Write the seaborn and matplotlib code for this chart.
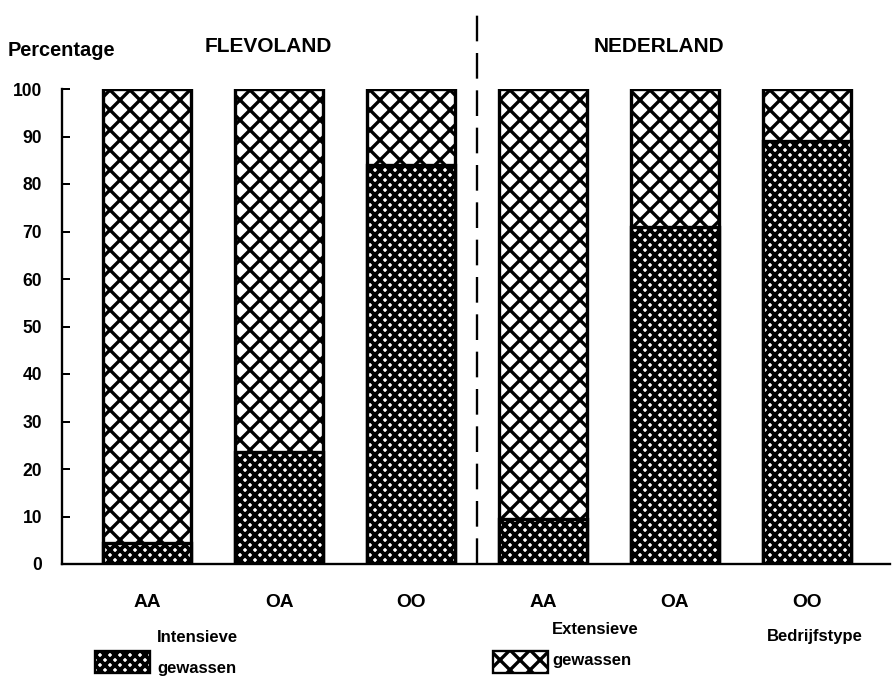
import matplotlib
matplotlib.use("Agg")
import matplotlib.pyplot as plt
import seaborn as sns
import pandas as pd
from matplotlib.patches import Rectangle

# ---- data ----
regions = ["FLEVOLAND", "FLEVOLAND", "FLEVOLAND", "NEDERLAND", "NEDERLAND", "NEDERLAND"]
farm_types = ["AA", "OA", "OO", "AA", "OA", "OO"]
intensive = [4.5, 23.5, 84, 9.5, 71, 89]
extensive = [100 - v for v in intensive]
y_ticks = [0, 10, 20, 30, 40, 50, 60, 70, 80, 90, 100]

sns.set_theme(style="white")
plt.rcParams["font.family"] = ["Liberation Sans", "DejaVu Sans"]
plt.rcParams["font.weight"] = "bold"
plt.rcParams["text.color"] = "black"
plt.rcParams["hatch.linewidth"] = 2.0

DPI = 120
W, H = 894, 683
fig = plt.figure(figsize=(W / DPI, H / DPI), dpi=DPI)
ax = fig.add_axes([62 / W, 1 - 564 / H, (890 - 62) / W, (564 - 89) / H])

keys = [f"{r} {t}" for r, t in zip(regions, farm_types)]
df = pd.DataFrame({"key": keys, "total": [i + e for i, e in zip(intensive, extensive)],
                   "intensive": intensive})

sns.barplot(data=df, x="key", y="total", order=keys, color="white", width=0.667,
            edgecolor="black", linewidth=2.0, ax=ax, saturation=1)
n0 = len(ax.patches)
sns.barplot(data=df, x="key", y="intensive", order=keys, color="white", width=0.667,
            edgecolor="black", linewidth=2.0, ax=ax, saturation=1)
for i, p in enumerate(ax.patches):
    p.set_facecolor("white")
    p.set_edgecolor("black")
    p.set_hatch("xx" if i < n0 else "xxxx")
    if hasattr(p, "set_hatch_linewidth"):
        p.set_hatch_linewidth(2.0 if i < n0 else 2.3)

ax.set_xlim(-0.645, 5.63)
ax.set_ylim(0, 100)
ax.set_yticks(y_ticks)
ax.set_yticklabels([str(v) for v in y_ticks], fontsize=10.5, fontweight="bold", color="black")
ax.set_xticks(range(len(farm_types)))
ax.set_xticklabels(farm_types, fontsize=11.5, fontweight="bold", color="black")
ax.set_xlabel("")
ax.set_ylabel("")
ax.tick_params(axis="y", direction="in", length=4.8, width=1.2, pad=12, colors="black", left=True)
ax.tick_params(axis="x", length=0, pad=18, colors="black")
for s in ["top", "right"]:
    ax.spines[s].set_visible(False)
for s in ["left", "bottom"]:
    ax.spines[s].set_color("black")
    ax.spines[s].set_linewidth(1.4)

# dashed separator
ax.plot([2.5, 2.5], [0, 117], color="black", lw=1.4, dashes=(11, 5), clip_on=False)

# texts
def ftext(x, y, s, size=10, **kw):
    fig.text(x / W, 1 - y / H, s, fontsize=size, fontweight="bold", color="black", **kw)

ftext(8, 50, "Percentage", size=12, ha="left", va="center")
ftext(268, 47, "FLEVOLAND", size=12.5, ha="center", va="center")
ftext(659, 47, "NEDERLAND", size=12.5, ha="center", va="center")
ftext(815, 636, "Bedrijfstype", ha="center", va="center")
ftext(157, 637, "Intensieve", ha="left", va="center")
ftext(157, 669, "gewassen", ha="left", va="center")
ftext(552, 629, "Extensieve", ha="left", va="center")
ftext(552, 660, "gewassen", ha="left", va="center")

# legend swatches
for (x0, x1, y0, y1, h, lw) in [(95, 150, 651, 673, "xxxx", 2.3), (493, 548, 651, 673, "xx", 2.0)]:
    r = Rectangle((x0 / W, 1 - y1 / H), (x1 - x0) / W, (y1 - y0) / H,
                  transform=fig.transFigure, facecolor="white",
                  edgecolor="black", lw=1.4, hatch=h)
    if hasattr(r, "set_hatch_linewidth"):
        r.set_hatch_linewidth(lw)
    fig.patches.append(r)

fig.savefig("out.png", dpi=DPI)
